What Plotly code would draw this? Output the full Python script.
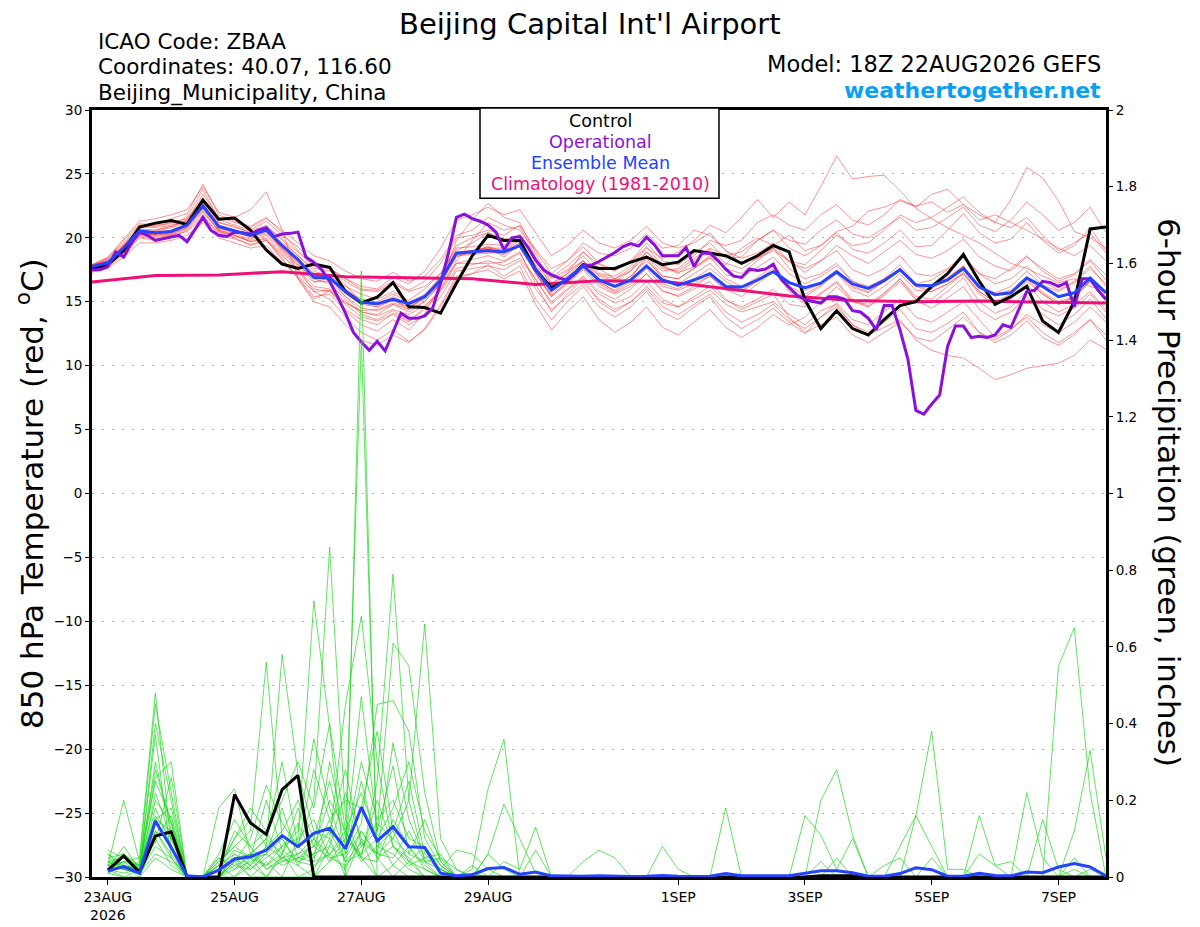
import pandas as pd
import plotly.graph_objects as go

# time axes (6-hourly GEFS from 18Z 22AUG2026, 3-hourly operational)
TEMP_START = "2026-08-22 18:00"
PRECIP_START = "2026-08-23 00:00"

# ensemble mean 850 hPa temperature (C), every 6 h
MEAN_T = [17.75, 18.05, 19.2, 20.55, 20.4, 20.5, 21.0, 22.5, 20.9, 20.55,
          20.2, 20.6, 19.4, 18.3, 16.9, 16.85, 15.8, 14.95, 14.85, 15.2,
          14.85, 15.4, 16.65, 18.8, 18.9, 19.0, 18.9, 19.4, 17.5, 15.9,
          16.8, 17.8, 16.7, 16.2, 16.7, 17.8, 16.7, 16.3, 16.7, 17.2,
          16.2, 16.15, 16.7, 17.35, 16.5, 16.1, 16.45, 17.35, 16.4, 16.05,
          16.65, 17.5, 16.3, 16.25, 16.7, 17.6, 16.15, 15.55, 15.7, 16.85,
          16.2, 15.4, 15.7, 16.85, 15.7]

# control member temperature, every 6 h
CONTROL_T = [17.6, 17.9, 19.0, 20.85, 21.15, 21.35, 21.05, 22.95, 21.45, 21.55,
             20.6, 19.05, 17.95, 17.6, 17.95, 17.7, 15.8, 14.9, 15.35, 16.5,
             14.6, 14.55, 14.1, 16.45, 18.6, 20.2, 19.8, 19.8, 17.5, 16.1,
             16.7, 17.9, 17.6, 17.6, 18.1, 18.5, 17.9, 18.1, 19.0, 18.8,
             18.6, 18.0, 18.6, 19.4, 18.9, 15.15, 12.9, 14.3, 12.9, 12.4,
             13.6, 14.7, 15.0, 16.2, 17.2, 18.7, 16.6, 14.8, 15.4, 16.2,
             13.5, 12.6, 15.0, 20.7, 20.85]

# operational run temperature, every 3 h
OPER_T = [17.5, 17.5, 17.75, 18.9, 18.5, 19.6, 20.45, 20.2, 19.8, 19.95,
          20.1, 20.2, 19.7, 20.6, 21.6, 20.6, 20.2, 20.1, 20.45, 20.4,
          20.3, 20.6, 20.8, 20.1, 20.3, 20.35, 20.45, 18.5, 18.1, 17.5,
          16.6, 15.4, 14.1, 12.6, 11.85, 11.2, 11.9, 11.15, 12.7, 14.1,
          13.7, 13.7, 13.9, 14.5, 16.45, 18.8, 21.6, 21.85, 21.5, 21.3,
          21.0, 20.45, 19.05, 20.0, 20.1, 19.3, 18.25, 17.5, 17.1, 16.85,
          16.7, 17.2, 17.85, 17.85, 18.15, 18.5, 18.85, 19.3, 19.55, 19.35,
          20.05, 19.45, 18.6, 18.6, 18.6, 19.25, 17.75, 18.8, 18.8, 18.25,
          17.55, 17.0, 16.9, 17.55, 17.45, 17.55, 17.95, 16.75, 16.1, 15.5,
          15.15, 15.0, 14.9, 15.4, 15.4, 15.2, 14.3, 14.2, 13.7, 12.8,
          14.7, 14.7, 12.8, 10.5, 6.5, 6.2, 7.0, 7.7, 11.5, 13.1,
          13.1, 12.2, 12.3, 12.2, 12.4, 13.2, 13.0, 14.4, 15.8, 15.9,
          16.6, 16.5, 16.2, 16.5, 14.6, 16.8, 16.8, 15.9, 15.2]

# 1981-2010 climatology, daily from 18Z 22AUG
CLIM_T = [16.55, 17.05, 17.1, 17.35, 16.95, 16.9, 16.8, 16.35, 16.65,
          16.6, 16.0, 15.45, 15.1, 15.0, 15.05, 15.0, 14.9]

# 6-hour precipitation (inches), first value valid 00Z 23AUG
MEAN_P = [0.016, 0.027, 0.010, 0.146, 0.077, 0.003, 0.0, 0.018, 0.047, 0.053,
          0.070, 0.108, 0.079, 0.114, 0.127, 0.074, 0.182, 0.094, 0.131, 0.079,
          0.077, 0.010, 0.003, 0.006, 0.022, 0.025, 0.007, 0.013, 0.003, 0.002,
          0.002, 0.003, 0.002, 0.001, 0.002, 0.004, 0.002, 0.001, 0.002, 0.009,
          0.003, 0.003, 0.002, 0.003, 0.010, 0.016, 0.016, 0.011, 0.002, 0.002,
          0.009, 0.024, 0.019, 0.002, 0.002, 0.010, 0.004, 0.003, 0.013, 0.011,
          0.026, 0.035, 0.026, 0.003]

CONTROL_P = [0.018, 0.055, 0.012, 0.107, 0.118, 0.0, 0.0, 0.0, 0.215, 0.141,
             0.111, 0.228, 0.265, 0.0, 0.0, 0.0, 0.0, 0.0, 0.0, 0.0,
             0.0, 0.0, 0.0, 0.0, 0.0, 0.0, 0.0, 0.0, 0.0, 0.0,
             0.0, 0.0, 0.0, 0.0, 0.0, 0.0, 0.0, 0.0, 0.0, 0.0,
             0.0, 0.0, 0.0, 0.0, 0.0, 0.003, 0.003, 0.003, 0.0, 0.0,
             0.0, 0.0, 0.0, 0.0, 0.0, 0.0, 0.0, 0.0, 0.0, 0.0,
             0.0, 0.0, 0.0, 0.0]

# ensemble members, temperature (6 h)
RED_MEMBERS = [
    [17.8, 18.3, 19.5, 20.8, 20.9, 21.2, 21.5, 23.1, 21.2, 20.8, 20.5, 21.0, 19.8,
     18.6, 17.4, 17.0, 16.2, 15.6, 15.2, 15.8, 15.1, 16.0, 17.2, 19.0, 19.6,
     20.4, 19.9, 20.1, 18.2, 16.8, 17.5, 18.6, 17.2, 17.0, 17.8, 19.2, 18.4,
     18.9, 19.8, 21.0, 20.4, 21.6, 23.0, 21.6, 22.8, 21.8, 24.0, 26.4, 24.6,
     24.8, 24.9, 23.7, 22.3, 21.5, 20.8, 20.2, 19.6, 18.8, 18.0, 17.6, 17.0, 16.5, 16.8, 16.2, 15.8],
    [17.6, 17.9, 19.0, 20.2, 20.6, 20.9, 21.4, 22.8, 20.6, 20.3, 19.9, 20.8, 19.0,
     17.8, 16.5, 16.9, 15.4, 14.2, 14.0, 14.8, 14.2, 15.0, 16.4, 18.5, 18.9,
     19.3, 18.5, 19.6, 17.2, 15.4, 16.6, 17.9, 16.5, 15.9, 16.8, 18.6, 17.0,
     16.8, 17.6, 18.4, 17.9, 19.2, 20.0, 19.4, 20.2, 19.0, 19.4, 20.5, 20.9,
     22.1, 22.4, 22.9, 22.5, 22.8, 22.0, 22.6, 21.8, 21.2, 23.0, 25.5, 24.7, 22.9, 20.5, 20.0, 19.2],
    [17.9, 18.5, 19.9, 21.3, 21.5, 21.8, 22.2, 24.0, 22.0, 21.6, 22.2, 23.6, 20.6,
     16.8, 15.2, 15.9, 14.4, 13.6, 13.2, 14.1, 13.4, 14.6, 16.0, 18.2, 19.8,
     21.2, 20.6, 20.9, 18.5, 16.2, 17.2, 18.9, 17.6, 16.8, 17.4, 18.9, 17.8,
     17.2, 18.2, 19.1, 18.0, 17.6, 18.4, 19.0, 18.2, 17.3, 18.2, 19.4, 18.6,
     18.0, 18.9, 19.8, 18.7, 18.4, 19.0, 19.9, 18.5, 17.8, 17.4, 18.5, 17.6, 16.8, 17.2, 18.3, 17.1],
    [17.4, 17.8, 18.8, 20.0, 19.8, 20.0, 20.6, 21.8, 20.2, 19.9, 19.5, 19.8, 18.6,
     17.5, 16.2, 16.0, 15.0, 14.2, 13.9, 14.4, 14.0, 14.7, 15.8, 17.6, 17.9,
     18.2, 17.8, 18.4, 16.8, 14.8, 15.9, 16.9, 15.6, 14.9, 15.4, 16.6, 15.2,
     14.6, 15.2, 15.9, 14.8, 14.2, 14.6, 15.0, 14.0, 13.2, 14.3, 14.8, 13.2,
     12.4, 13.0, 13.6, 12.0, 11.2, 10.8, 10.6, 9.8, 8.9, 9.3, 9.8, 10.0, 10.2, 10.8, 12.0, 11.3],
    [17.5, 18.0, 19.2, 20.4, 20.2, 20.3, 20.8, 22.3, 20.5, 20.1, 19.8, 20.2, 18.9,
     17.6, 15.8, 15.2, 13.8, 12.6, 12.0, 12.8, 11.9, 12.8, 14.6, 16.8, 17.2,
     17.9, 17.0, 17.8, 15.2, 13.6, 15.0, 16.2, 14.6, 13.8, 14.6, 15.8, 14.2,
     13.6, 14.6, 15.4, 13.8, 12.9, 13.6, 14.5, 13.4, 12.5, 13.8, 14.9, 13.6,
     13.2, 14.2, 15.2, 13.8, 13.4, 14.2, 15.0, 13.6, 12.2, 12.9, 13.8, 12.6, 11.8, 12.6, 13.6, 12.4],
    [17.7, 18.1, 19.4, 20.6, 20.5, 20.8, 21.2, 22.9, 21.0, 20.6, 20.3, 20.7, 19.6,
     18.6, 17.6, 17.4, 16.6, 15.9, 15.8, 16.4, 15.8, 16.2, 17.2, 19.2, 19.3,
     19.5, 19.4, 20.3, 18.4, 16.9, 17.8, 18.9, 17.9, 17.4, 18.2, 19.6, 18.2,
     17.9, 18.8, 19.6, 18.4, 18.5, 19.8, 20.6, 19.2, 18.6, 19.4, 20.4, 19.1,
     18.8, 19.6, 20.6, 19.3, 19.4, 20.6, 21.9, 20.4, 19.6, 19.9, 21.2, 19.8, 18.8, 19.4, 20.8, 19.0],
    [17.6, 17.9, 19.0, 20.4, 20.2, 20.4, 20.9, 22.5, 20.8, 20.5, 20.1, 20.4, 19.2,
     18.0, 16.6, 16.6, 15.4, 14.5, 14.3, 14.8, 14.4, 15.0, 16.4, 18.6, 18.7,
     18.8, 18.9, 19.4, 17.3, 15.5, 16.5, 17.6, 16.4, 15.7, 16.4, 17.6, 16.2,
     15.9, 16.4, 17.0, 15.9, 15.8, 16.6, 17.4, 16.0, 15.4, 16.2, 17.2, 15.9,
     15.4, 16.2, 17.2, 15.9, 15.8, 16.4, 17.3, 15.8, 15.0, 15.3, 16.6, 15.6, 14.8, 15.3, 16.6, 15.2],
    [17.8, 18.2, 19.3, 20.5, 20.3, 20.4, 21.0, 22.2, 20.9, 20.6, 20.0, 20.3, 19.1,
     17.9, 16.8, 16.4, 15.2, 14.0, 13.6, 14.3, 13.5, 14.4, 15.9, 18.0, 18.3,
     18.6, 18.2, 18.9, 16.4, 14.2, 15.6, 16.8, 15.0, 14.2, 15.0, 16.2, 14.9,
     14.6, 15.4, 16.2, 15.1, 14.6, 15.2, 16.0, 14.8, 14.6, 15.6, 16.5, 15.0,
     14.8, 15.7, 16.8, 15.2, 14.9, 15.8, 16.9, 15.0, 14.1, 14.6, 15.8, 14.4, 13.9, 14.5, 15.6, 14.2],
    [17.9, 18.4, 19.6, 21.0, 21.0, 21.1, 21.6, 23.8, 21.4, 21.0, 20.6, 21.3, 20.2,
     19.3, 18.0, 17.6, 16.8, 16.0, 15.9, 16.6, 15.9, 16.6, 18.0, 20.0, 20.2,
     20.6, 20.2, 21.0, 19.1, 17.6, 18.2, 19.3, 18.0, 17.5, 18.1, 19.3, 17.8,
     17.3, 17.7, 18.5, 17.1, 16.9, 17.7, 18.5, 17.2, 16.4, 17.0, 17.8, 16.6,
     16.0, 16.8, 17.9, 16.4, 16.2, 16.9, 17.8, 16.2, 15.7, 16.2, 17.4, 16.3, 15.8, 16.5, 17.6, 16.4],
    [17.4, 17.7, 18.7, 20.1, 19.9, 20.2, 20.5, 21.6, 20.4, 20.0, 19.4, 19.8, 18.3,
     16.9, 15.4, 15.6, 14.3, 13.2, 12.7, 13.6, 12.8, 14.1, 16.2, 19.8, 21.4,
     22.7, 21.6, 21.2, 18.8, 16.4, 17.4, 18.2, 16.8, 16.2, 17.0, 18.4, 16.8,
     16.4, 17.2, 18.0, 16.8, 16.2, 16.9, 17.8, 16.5, 15.9, 16.4, 17.2, 16.1,
     15.7, 16.6, 17.6, 16.4, 16.7, 17.5, 18.4, 17.2, 16.8, 17.6, 18.6, 17.4, 16.6, 17.1, 18.2, 16.7],
    [17.6, 18.0, 19.2, 20.5, 20.4, 20.6, 21.0, 22.6, 20.9, 20.5, 20.3, 20.7, 19.4,
     18.4, 17.2, 16.8, 15.9, 15.2, 15.0, 15.6, 15.0, 15.5, 16.8, 18.8, 19.0,
     19.2, 19.2, 19.9, 17.9, 16.4, 17.2, 18.2, 17.0, 16.6, 17.4, 18.6, 17.4,
     17.6, 18.6, 19.8, 19.4, 19.8, 21.2, 21.8, 21.0, 20.6, 21.8, 22.6, 21.4,
     21.0, 21.8, 23.0, 22.4, 23.4, 23.8, 22.6, 21.4, 21.8, 21.2, 20.6, 19.9, 19.2, 18.6, 19.4, 18.2],
    [17.5, 17.8, 18.9, 20.2, 20.0, 20.2, 20.7, 22.0, 20.6, 20.2, 19.7, 20.0, 18.7,
     17.3, 16.0, 15.8, 14.8, 13.8, 13.5, 14.0, 13.2, 13.9, 15.4, 17.4, 17.6,
     17.8, 17.5, 18.2, 16.0, 14.4, 15.4, 16.4, 15.2, 14.4, 15.0, 16.0, 14.6,
     14.0, 14.8, 15.6, 14.2, 13.4, 14.0, 14.8, 13.6, 12.9, 13.8, 14.6, 13.2,
     12.6, 13.4, 14.4, 12.9, 12.6, 13.3, 14.2, 12.6, 11.8, 12.4, 13.5, 12.2, 11.6, 12.4, 13.6, 12.0],
    [17.7, 18.2, 19.4, 20.7, 20.6, 20.9, 21.3, 23.4, 21.6, 21.2, 20.8, 21.5, 20.6,
     19.6, 18.6, 18.2, 17.4, 16.8, 16.6, 17.3, 16.6, 17.0, 18.3, 20.2, 20.6,
     21.6, 21.0, 20.6, 19.0, 17.2, 18.2, 19.6, 18.8, 18.6, 19.2, 20.3, 19.2,
     19.4, 20.6, 20.2, 19.0, 18.4, 18.8, 19.6, 18.1, 17.6, 18.2, 19.0, 17.5,
     17.0, 17.6, 18.6, 17.2, 17.0, 17.6, 18.6, 17.2, 16.4, 16.8, 17.8, 16.6, 15.9, 16.6, 17.8, 16.2],
    [17.3, 17.6, 18.5, 19.6, 19.6, 19.8, 20.2, 21.2, 20.0, 19.6, 19.2, 19.4, 18.1,
     17.0, 15.8, 15.9, 14.9, 14.3, 14.4, 14.9, 14.6, 15.2, 16.4, 18.0, 18.0,
     18.0, 18.1, 18.8, 16.7, 15.0, 16.0, 17.0, 15.8, 15.2, 16.0, 17.2, 15.8,
     15.5, 16.2, 17.0, 16.0, 15.4, 16.4, 17.4, 16.2, 15.6, 16.3, 17.4, 16.2,
     15.8, 16.6, 17.5, 16.2, 16.0, 16.8, 17.8, 16.3, 15.6, 15.9, 17.0, 15.7, 15.0, 15.4, 16.6, 15.0],
    [17.8, 18.4, 19.8, 21.1, 21.0, 21.5, 21.9, 24.2, 21.8, 21.3, 20.9, 21.6, 20.4,
     19.0, 17.8, 17.6, 16.3, 15.0, 14.6, 15.2, 14.4, 15.4, 17.0, 19.4, 20.0,
     20.4, 19.8, 19.8, 17.4, 15.6, 16.8, 18.0, 16.6, 15.8, 16.6, 17.8, 16.4,
     16.0, 16.8, 17.6, 16.6, 15.9, 16.7, 17.6, 15.8, 14.8, 15.7, 16.6, 15.2,
     14.6, 15.5, 16.6, 15.1, 14.5, 15.3, 16.2, 14.4, 13.6, 14.2, 15.4, 14.0, 13.2, 14.0, 15.2, 13.7],
    [17.6, 18.0, 19.1, 20.3, 20.3, 20.5, 21.0, 22.6, 20.7, 20.4, 20.2, 20.6, 19.3,
     18.2, 17.0, 17.0, 16.0, 15.0, 14.8, 15.4, 14.8, 15.6, 16.9, 18.9, 19.0,
     19.3, 19.0, 19.8, 17.8, 16.0, 17.0, 18.2, 17.1, 16.8, 17.6, 18.9, 17.6,
     17.4, 18.4, 19.2, 18.6, 18.9, 19.8, 20.6, 19.8, 19.5, 20.6, 21.4, 20.3,
     20.0, 20.8, 21.6, 20.6, 20.8, 21.6, 22.4, 21.0, 20.5, 21.4, 22.8, 21.8, 20.6, 21.2, 22.4, 20.4],
    [17.5, 17.9, 19.0, 20.3, 20.1, 20.3, 20.8, 22.1, 20.5, 20.2, 19.7, 19.9, 18.4,
     16.8, 15.0, 14.6, 13.2, 12.0, 11.6, 12.4, 11.8, 12.9, 14.8, 17.0, 17.2,
     17.5, 16.8, 17.4, 14.8, 12.8, 14.2, 15.4, 13.6, 12.6, 13.4, 14.6, 13.0,
     12.4, 13.4, 14.4, 13.0, 12.2, 13.0, 14.0, 13.2, 13.8, 15.0, 16.2, 15.0,
     14.6, 15.6, 16.8, 15.4, 15.2, 16.2, 17.2, 15.8, 15.0, 15.6, 16.8, 15.6, 14.8, 15.4, 16.6, 15.2],
    [17.9, 18.2, 19.4, 20.9, 20.8, 21.0, 21.4, 23.0, 21.2, 20.9, 20.4, 20.9, 19.9,
     18.9, 17.8, 17.6, 16.8, 16.2, 16.0, 16.9, 16.4, 17.4, 19.2, 21.4, 21.8,
     22.4, 21.8, 22.2, 20.4, 18.6, 19.4, 20.6, 19.6, 19.2, 19.8, 20.9, 19.6,
     19.2, 19.6, 20.4, 19.0, 18.0, 18.4, 19.2, 17.6, 16.8, 17.2, 18.0, 16.6,
     16.2, 16.8, 17.6, 16.2, 15.8, 16.4, 17.2, 15.6, 14.8, 15.2, 16.4, 15.0, 14.2, 14.8, 15.8, 14.4],
    [17.7, 18.1, 19.2, 20.4, 20.3, 20.6, 21.1, 22.7, 20.8, 20.4, 20.1, 20.5, 19.2,
     18.1, 16.9, 16.8, 15.6, 14.8, 14.6, 15.1, 14.6, 15.3, 16.6, 18.7, 18.8,
     18.9, 18.7, 19.3, 17.2, 15.4, 16.4, 17.5, 16.2, 15.6, 16.2, 17.2, 15.9,
     15.4, 16.0, 16.6, 15.2, 14.4, 15.0, 15.6, 13.8, 12.6, 13.2, 13.8, 12.4,
     11.8, 12.6, 13.4, 12.2, 11.9, 12.8, 13.8, 12.6, 12.0, 12.8, 14.0, 13.2, 12.6, 13.4, 14.6, 13.4],
    [17.6, 18.0, 19.1, 20.4, 20.3, 20.5, 21.0, 22.4, 20.8, 20.5, 20.2, 20.6, 19.3,
     18.2, 17.0, 16.9, 15.8, 15.0, 14.8, 15.3, 14.8, 15.4, 16.8, 18.8, 19.0,
     19.2, 19.0, 19.6, 17.6, 15.8, 16.8, 18.0, 16.8, 16.2, 17.0, 18.2, 17.0,
     16.8, 17.6, 18.6, 17.6, 17.2, 18.2, 19.2, 18.2, 17.9, 19.0, 20.2, 19.4,
     19.6, 20.6, 21.8, 21.2, 21.6, 22.4, 23.2, 22.0, 21.2, 20.8, 21.6, 20.2, 19.0, 19.6, 20.4, 18.8],
]

# ensemble members, 6-hour precipitation
GREEN_MEMBERS = [
    [0.02, 0, 0, 0.10, 0.03, 0, 0, 0, 0.05, 0, 0.04, 0, 0, 0.02, 0.10, 0,
     1.58, 0, 0, 0, 0, 0, 0, 0, 0, 0, 0, 0, 0, 0, 0, 0,
     0, 0, 0, 0, 0, 0, 0, 0, 0, 0, 0, 0, 0, 0, 0, 0,
     0, 0, 0, 0, 0, 0, 0, 0, 0, 0, 0, 0, 0, 0, 0, 0],
    [0.01, 0.03, 0, 0.05, 0.02, 0, 0, 0, 0, 0.03, 0, 0.06, 0, 0, 0.04, 0.10,
     1.40, 0.05, 0, 0, 0, 0, 0, 0, 0, 0, 0, 0, 0, 0, 0, 0,
     0, 0, 0, 0, 0, 0, 0, 0, 0, 0, 0, 0, 0, 0, 0, 0,
     0, 0, 0, 0, 0, 0, 0, 0, 0, 0, 0, 0, 0, 0, 0, 0],
    [0.03, 0.02, 0.01, 0.22, 0.10, 0, 0, 0, 0.04, 0, 0, 0.05, 0.08, 0.20, 0.86, 0.15,
     0.05, 0, 0.03, 0, 0, 0, 0, 0.02, 0.23, 0.36, 0, 0, 0, 0, 0, 0,
     0, 0, 0, 0, 0, 0, 0, 0, 0, 0, 0, 0, 0, 0, 0, 0,
     0, 0, 0, 0, 0, 0, 0, 0, 0, 0, 0, 0, 0, 0, 0, 0],
    [0.02, 0.04, 0.05, 0.48, 0.08, 0, 0, 0.03, 0, 0.05, 0, 0, 0.10, 0.72, 0.39, 0,
     0.10, 0, 0, 0.04, 0, 0, 0, 0, 0, 0, 0, 0, 0, 0, 0, 0,
     0, 0, 0, 0, 0, 0, 0, 0, 0, 0, 0, 0, 0, 0.20, 0.28, 0.11,
     0, 0, 0, 0, 0, 0, 0, 0, 0, 0, 0, 0, 0, 0, 0, 0],
    [0.04, 0.02, 0.01, 0.12, 0.06, 0, 0, 0, 0.02, 0.06, 0.10, 0.30, 0.08, 0.04, 0.06, 0.12,
     0.05, 0.25, 0.79, 0.20, 0.04, 0, 0, 0, 0, 0, 0, 0, 0, 0, 0, 0,
     0, 0, 0, 0, 0, 0, 0, 0, 0, 0, 0, 0, 0, 0, 0, 0,
     0, 0, 0, 0, 0, 0, 0, 0, 0, 0, 0, 0, 0.55, 0.65, 0.22, 0],
    [0.01, 0, 0.02, 0.37, 0.05, 0, 0, 0.04, 0.08, 0.12, 0.56, 0.10, 0.03, 0, 0.08, 0.05,
     0.12, 0.06, 0.10, 0.20, 0.66, 0.10, 0.02, 0, 0, 0, 0, 0, 0, 0, 0, 0,
     0, 0, 0, 0, 0, 0, 0, 0, 0, 0, 0, 0, 0, 0, 0, 0,
     0, 0, 0.08, 0.16, 0.38, 0.02, 0.02, 0, 0, 0, 0, 0, 0, 0, 0, 0],
    [0.03, 0.20, 0.04, 0.09, 0.26, 0, 0, 0, 0.06, 0.03, 0.08, 0.58, 0.27, 0.12, 0.10, 0.45,
     0.68, 0.30, 0.08, 0.05, 0, 0, 0, 0, 0, 0, 0, 0, 0, 0, 0, 0,
     0, 0, 0, 0, 0, 0, 0, 0.18, 0, 0, 0, 0, 0, 0, 0, 0,
     0, 0, 0, 0, 0, 0, 0, 0, 0, 0, 0, 0, 0, 0, 0, 0],
    [0.02, 0.03, 0.02, 0.15, 0.12, 0, 0, 0.18, 0.23, 0.06, 0.02, 0.05, 0.06, 0.10, 0.04, 0.08,
     0.47, 0.12, 0.61, 0.55, 0.22, 0.04, 0, 0, 0, 0, 0, 0, 0, 0, 0, 0,
     0, 0, 0, 0, 0, 0, 0, 0, 0, 0, 0, 0, 0, 0, 0, 0,
     0, 0, 0, 0, 0, 0, 0, 0, 0, 0, 0.22, 0.05, 0, 0, 0, 0],
    [0.05, 0.06, 0.03, 0.20, 0.14, 0, 0, 0.05, 0.03, 0.02, 0.05, 0.08, 0.12, 0.36, 0.18, 0.06,
     0.14, 0.45, 0.46, 0.38, 0.10, 0.03, 0, 0, 0, 0, 0, 0, 0, 0, 0, 0,
     0, 0, 0, 0, 0, 0, 0, 0, 0, 0, 0, 0, 0.16, 0.11, 0.02, 0.10,
     0, 0, 0, 0, 0, 0, 0, 0, 0, 0, 0, 0, 0, 0, 0, 0],
    [0.02, 0.04, 0.01, 0.06, 0.04, 0, 0, 0.02, 0.10, 0.18, 0.12, 0.04, 0.06, 0.08, 0.20, 0.12,
     0.04, 0.08, 0.06, 0.02, 0, 0, 0, 0, 0.06, 0.19, 0.10, 0.01, 0, 0, 0, 0,
     0, 0, 0, 0, 0, 0, 0, 0, 0, 0, 0, 0, 0, 0, 0, 0,
     0, 0, 0, 0, 0, 0, 0, 0, 0, 0, 0, 0, 0, 0.12, 0.33, 0.05],
    [0.04, 0.03, 0.02, 0.15, 0.18, 0, 0, 0, 0.04, 0.06, 0.03, 0.08, 0.10, 0.15, 0.05, 0.03,
     0.08, 0.12, 0.29, 0.06, 0.15, 0.04, 0, 0, 0, 0.04, 0.02, 0.13, 0, 0, 0.04, 0.07,
     0.05, 0, 0, 0, 0, 0, 0, 0, 0, 0, 0, 0, 0, 0, 0, 0,
     0, 0, 0, 0, 0, 0, 0, 0, 0, 0, 0, 0, 0, 0, 0, 0],
    [0.07, 0.05, 0.02, 0.12, 0.05, 0, 0, 0.02, 0.12, 0.08, 0.02, 0.04, 0.05, 0.06, 0.15, 0.04,
     0.06, 0.10, 0.03, 0.08, 0.02, 0, 0, 0.01, 0, 0, 0, 0, 0, 0, 0, 0,
     0, 0, 0, 0.08, 0.02, 0, 0, 0, 0, 0, 0, 0, 0, 0, 0, 0,
     0, 0, 0, 0, 0, 0, 0, 0.16, 0.03, 0, 0, 0, 0, 0, 0, 0],
    [0.06, 0.02, 0.03, 0.25, 0.15, 0, 0, 0, 0.03, 0.05, 0.06, 0.10, 0.04, 0.03, 0.06, 0.02,
     0.12, 0.05, 0.08, 0.03, 0.05, 0.02, 0.07, 0.06, 0.02, 0, 0, 0.07, 0, 0, 0, 0,
     0, 0, 0, 0, 0, 0, 0, 0, 0, 0, 0, 0, 0, 0, 0, 0,
     0, 0, 0, 0, 0, 0, 0, 0, 0, 0, 0, 0.15, 0.02, 0, 0, 0],
    [0.03, 0.06, 0.02, 0.18, 0.08, 0, 0, 0.03, 0.06, 0.03, 0.08, 0.05, 0.03, 0.10, 0.06, 0.10,
     0.05, 0.04, 0.15, 0.08, 0.03, 0, 0, 0, 0.06, 0.02, 0, 0, 0, 0, 0, 0,
     0, 0, 0, 0, 0, 0, 0, 0, 0, 0, 0, 0, 0, 0, 0, 0,
     0, 0, 0, 0.16, 0.08, 0, 0, 0.06, 0.03, 0.04, 0, 0, 0, 0, 0, 0],
    [0.02, 0.01, 0.02, 0.30, 0.12, 0, 0, 0, 0.05, 0.02, 0.06, 0.03, 0.05, 0.08, 0.12, 0.04,
     0.09, 0.06, 0.05, 0.12, 0.04, 0.05, 0, 0, 0, 0, 0, 0, 0, 0, 0, 0,
     0, 0, 0, 0, 0, 0, 0, 0, 0, 0, 0, 0, 0, 0, 0, 0,
     0, 0.03, 0.05, 0, 0, 0, 0, 0, 0, 0, 0, 0, 0, 0.02, 0, 0],
    [0.03, 0.02, 0.01, 0.08, 0.05, 0, 0, 0.05, 0.02, 0.04, 0.06, 0.18, 0.05, 0.04, 0.30, 0.10,
     0.06, 0.20, 0.08, 0.04, 0.08, 0.02, 0, 0, 0, 0, 0, 0, 0, 0, 0, 0,
     0, 0, 0, 0, 0, 0, 0, 0, 0, 0, 0, 0, 0, 0, 0.05, 0,
     0, 0, 0, 0, 0, 0, 0, 0, 0, 0, 0, 0, 0, 0, 0, 0],
    [0.01, 0.03, 0.02, 0.40, 0.20, 0, 0, 0.02, 0.07, 0.05, 0.03, 0.06, 0.18, 0.08, 0.05, 0.06,
     0.25, 0.08, 0.12, 0.04, 0.02, 0, 0, 0, 0, 0, 0, 0, 0, 0, 0, 0,
     0, 0, 0, 0, 0, 0, 0, 0, 0, 0, 0, 0, 0, 0, 0, 0,
     0, 0, 0, 0, 0, 0, 0, 0, 0, 0, 0, 0, 0, 0, 0.02, 0],
    [0.04, 0.05, 0.03, 0.28, 0.14, 0, 0, 0.04, 0.08, 0.05, 0.20, 0.07, 0.04, 0.06, 0.08, 0.22,
     0.10, 0.06, 0.35, 0.15, 0.05, 0.06, 0, 0, 0, 0, 0, 0, 0, 0, 0, 0,
     0, 0, 0, 0, 0, 0, 0, 0, 0, 0, 0, 0, 0, 0, 0, 0,
     0, 0, 0, 0, 0, 0, 0, 0, 0, 0, 0, 0, 0, 0, 0, 0],
    [0.05, 0.02, 0.04, 0.45, 0.22, 0, 0, 0.03, 0.10, 0.15, 0.08, 0.12, 0.20, 0.10, 0.25, 0.08,
     0.30, 0.15, 0.20, 0.10, 0.08, 0.03, 0, 0, 0, 0, 0, 0, 0, 0, 0, 0,
     0, 0, 0, 0, 0, 0, 0, 0, 0, 0, 0, 0, 0, 0, 0, 0,
     0, 0, 0, 0, 0, 0, 0, 0, 0, 0, 0, 0, 0, 0, 0, 0],
    [0.02, 0.08, 0.02, 0.26, 0.30, 0, 0, 0, 0.04, 0.10, 0.24, 0.14, 0.08, 0.28, 0.15, 0.20,
     0.18, 0.38, 0.12, 0.25, 0.06, 0.02, 0, 0, 0, 0, 0, 0, 0, 0, 0, 0,
     0, 0, 0, 0, 0, 0, 0, 0, 0, 0, 0, 0, 0, 0, 0, 0,
     0, 0, 0, 0, 0.05, 0, 0, 0, 0, 0, 0, 0, 0, 0, 0, 0],
    [0.03, 0.04, 0.03, 0.16, 0.10, 0, 0, 0.06, 0.15, 0.08, 0.12, 0.20, 0.30, 0.18, 0.40, 0.12,
     0.22, 0.10, 0.18, 0.30, 0.12, 0.05, 0.02, 0, 0, 0, 0, 0, 0, 0, 0, 0,
     0, 0, 0, 0, 0, 0, 0, 0, 0, 0, 0, 0, 0, 0.04, 0, 0,
     0, 0, 0, 0, 0, 0, 0, 0, 0, 0, 0, 0, 0, 0, 0, 0],
    [0.06, 0.03, 0.01, 0.10, 0.16, 0, 0, 0.02, 0.05, 0.06, 0.10, 0.06, 0.14, 0.05, 0.12, 0.28,
     0.08, 0.14, 0.10, 0.06, 0.04, 0.02, 0, 0.03, 0, 0, 0, 0, 0, 0, 0, 0,
     0, 0, 0, 0, 0, 0, 0, 0, 0, 0, 0, 0, 0, 0, 0, 0,
     0, 0, 0, 0, 0, 0, 0, 0, 0, 0, 0, 0, 0, 0.05, 0, 0],
]

# x-axis labels
TICK_DATES = ["2026-08-23", "2026-08-25", "2026-08-27", "2026-08-29",
              "2026-09-01", "2026-09-03", "2026-09-05", "2026-09-07"]
TICK_LABELS = ["23AUG<br>2026", "25AUG", "27AUG", "29AUG",
               "1SEP", "3SEP", "5SEP", "7SEP"]
PRECIP_TICKS = [0, 0.2, 0.4, 0.6, 0.8, 1.0, 1.2, 1.4, 1.6, 1.8, 2.0]
PRECIP_LABELS = ["0", "0.2", "0.4", "0.6", "0.8", "1", "1.2", "1.4", "1.6", "1.8", "2"]

FONT = "DejaVu Sans, Verdana, sans-serif"
PURPLE = "#8a10dc"
BLUE = "#2443ff"
MAGENTA = "#ee1078"

# plot box in page pixels (1200 x 927 window); the page body adds an 8 px margin
L, R, T, B = 92, 1106, 110, 883
OFF = 8
W, H = 1200, 927


def px(x):
    return (x - L) / (R - L)


def py(y):
    return (B - y) / (B - T)


t6 = pd.date_range(TEMP_START, periods=len(MEAN_T), freq="6h")
t3 = pd.date_range(TEMP_START, periods=len(OPER_T), freq="3h")
tday = pd.date_range(TEMP_START, periods=len(CLIM_T), freq="24h")
tp = pd.date_range(PRECIP_START, periods=len(MEAN_P), freq="6h")

fig = go.Figure()

for m in RED_MEMBERS:
    fig.add_trace(go.Scatter(x=t6, y=m, mode="lines", hoverinfo="skip",
                             line=dict(color="rgba(255,30,30,0.6)", width=0.8)))

for m in GREEN_MEMBERS:
    fig.add_trace(go.Scatter(x=tp, y=m, mode="lines", yaxis="y2", hoverinfo="skip",
                             line=dict(color="rgba(20,215,20,0.85)", width=0.8)))

fig.add_trace(go.Scatter(x=tday, y=CLIM_T, mode="lines",
                         line=dict(color=MAGENTA, width=3)))
fig.add_trace(go.Scatter(x=t6, y=CONTROL_T, mode="lines",
                         line=dict(color="black", width=3)))
fig.add_trace(go.Scatter(x=t3, y=OPER_T, mode="lines",
                         line=dict(color=PURPLE, width=3)))
fig.add_trace(go.Scatter(x=t6, y=MEAN_T, mode="lines",
                         line=dict(color=BLUE, width=3)))
fig.add_trace(go.Scatter(x=tp, y=CONTROL_P, mode="lines", yaxis="y2",
                         line=dict(color="black", width=3)))
fig.add_trace(go.Scatter(x=tp, y=MEAN_P, mode="lines", yaxis="y2",
                         line=dict(color=BLUE, width=3)))

fig.update_layout(
    width=W, height=H,
    margin=dict(l=L - OFF, r=W - (R - OFF), t=T - OFF, b=H - (B - OFF)),
    paper_bgcolor="white", plot_bgcolor="white",
    showlegend=False,
    font=dict(family=FONT, color="black"),
    xaxis=dict(
        type="date", range=[t6[0], t6[-1]],
        tickvals=TICK_DATES, ticktext=TICK_LABELS,
        ticks="outside", ticklen=5, tickwidth=1, tickcolor="black",
        tickfont=dict(size=14), showgrid=False, zeroline=False,
        showline=True, linewidth=3, linecolor="black", mirror=True,
    ),
    yaxis=dict(
        range=[-30, 30], dtick=5, tick0=-30,
        ticks="outside", ticklen=4, tickwidth=1, tickcolor="black",
        tickfont=dict(size=13.5),
        showgrid=True, gridcolor="#b0b0b0", griddash="2px,8px", gridwidth=1,
        zeroline=False,
        showline=True, linewidth=3, linecolor="black", mirror=True,
    ),
    yaxis2=dict(
        range=[0, 2], overlaying="y", side="right",
        tickvals=PRECIP_TICKS, ticktext=PRECIP_LABELS,
        ticks="outside", ticklen=4, tickwidth=1, tickcolor="black",
        tickfont=dict(size=13.5), showgrid=False, zeroline=False,
        showline=True, linewidth=3, linecolor="black",
    ),
)

# legend box
fig.add_shape(type="rect", xref="paper", yref="paper",
              x0=px(480), x1=px(719), y0=py(199), y1=py(108),
              fillcolor="white", line=dict(color="black", width=1.5), layer="above")

legend_rows = [("Control", "black", 121), ("Operational", PURPLE, 142),
               ("Ensemble Mean", BLUE, 163), ("Climatology (1981-2010)", MAGENTA, 185)]
for text, color, ypix in legend_rows:
    fig.add_annotation(text=text, xref="paper", yref="paper", x=px(600), y=py(ypix),
                       showarrow=False, xanchor="center", yanchor="middle",
                       font=dict(size=17.5, color=color))

# header texts
fig.add_annotation(text="Beijing Capital Int'l Airport", xref="paper", yref="paper",
                   x=px(590), y=py(23), showarrow=False, xanchor="center", yanchor="middle",
                   borderpad=0, font=dict(size=29))
info = [("ICAO Code: ZBAA", 41), ("Coordinates: 40.07, 116.60", 66),
        ("Beijing_Municipality, China", 93)]
for text, ypix in info:
    fig.add_annotation(text=text, xref="paper", yref="paper", x=px(96), y=py(ypix),
                       showarrow=False, xanchor="left", yanchor="middle",
                       font=dict(size=21.5))
fig.add_annotation(text="Model: 18Z 22AUG2026 GEFS", xref="paper", yref="paper",
                   x=px(1103), y=py(64), showarrow=False, xanchor="right", yanchor="middle",
                   font=dict(size=22.5))
fig.add_annotation(text="<b>weathertogether.net</b>", xref="paper", yref="paper",
                   x=px(1103), y=py(90), showarrow=False, xanchor="right", yanchor="middle",
                   font=dict(size=22, color="#0a9ff2"))

# axis titles
fig.add_annotation(text="850 hPa Temperature (red, <sup>o</sup>C)", xref="paper", yref="paper",
                   x=px(30), y=py(497), showarrow=False, textangle=-90,
                   xanchor="center", yanchor="middle", font=dict(size=31))
fig.add_annotation(text="6-hour Precipitation (green, inches)", xref="paper", yref="paper",
                   x=px(1169), y=py(495), showarrow=False, textangle=90,
                   xanchor="center", yanchor="middle", font=dict(size=31))

fig.write_html("out.html")
